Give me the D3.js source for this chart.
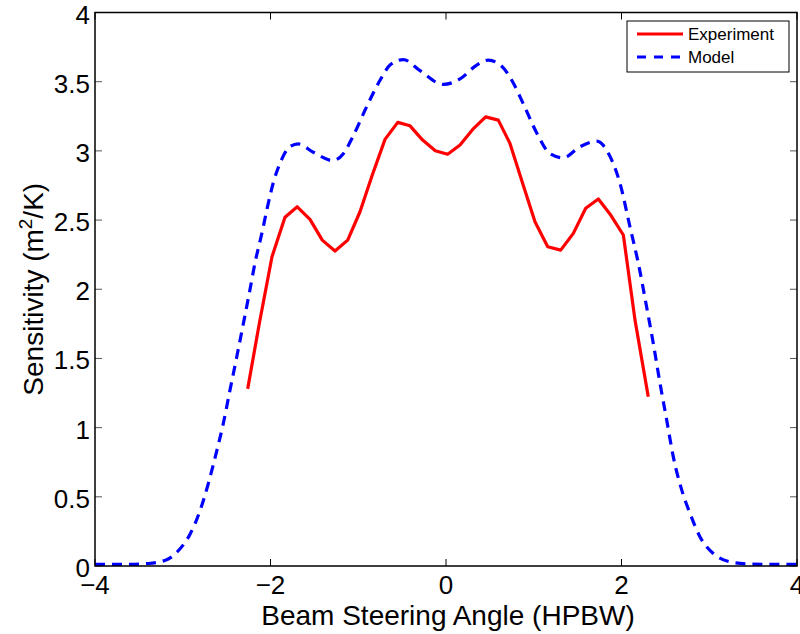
<!DOCTYPE html>
<html>
<head>
<meta charset="utf-8">
<script src="https://cdn.jsdelivr.net/npm/d3@7"></script>
<style>
  body { margin: 0; background: #fff; }
  text { font-family: "Liberation Sans", Arial, Helvetica, sans-serif; fill: #000; }
</style>
</head>
<body>
<div id="chart"></div>
<script>
const width = 800;
const height = 634;
const margin = { top: 12.5, right: 3, bottom: 68, left: 95 };

// measured experiment points (angle in HPBW, sensitivity in m^2/K)
const expX = [-2.26, -2.128, -1.983, -1.835, -1.695, -1.55, -1.41, -1.265, -1.12, -0.98, -0.84,
  -0.695, -0.55, -0.41, -0.266, -0.122, 0.019, 0.16, 0.304, 0.452, 0.596, 0.729, 0.874,
  1.014, 1.159, 1.307, 1.451, 1.592, 1.736, 1.877, 2.021, 2.154, 2.305];
const expY = [1.28, 1.75, 2.235, 2.52, 2.596, 2.505, 2.355, 2.276, 2.355, 2.56, 2.825,
  3.083, 3.206, 3.181, 3.078, 3.001, 2.975, 3.042, 3.155, 3.246, 3.222, 3.054, 2.765,
  2.488, 2.307, 2.283, 2.404, 2.585, 2.652, 2.536, 2.392, 1.777, 1.223];

// model curve
const modelX = [-4, -3.6, -3.393, -3.183, -3.051, -2.917, -2.803, -2.709, -2.621, -2.538, -2.462,
  -2.385, -2.31, -2.242, -2.177, -2.1, -2.043, -1.968, -1.892, -1.778, -1.683, -1.512,
  -1.291, -1.17, -1.056, -0.904, -0.752, -0.638, -0.487, -0.296, -0.031, 0.16, 0.35,
  0.482, 0.653, 0.767, 0.881, 1.034, 1.185, 1.337, 1.527, 1.717, 1.869, 1.983, 2.097,
  2.191, 2.287, 2.362, 2.439, 2.515, 2.59, 2.686, 2.781, 2.895, 3.046, 3.236, 3.464, 3.7, 4];
const modelY = [0.012, 0.012, 0.018, 0.045, 0.11, 0.23, 0.4, 0.595, 0.81, 1.03, 1.27,
  1.51, 1.75, 1.97, 2.19, 2.4, 2.57, 2.77, 2.91, 3.03, 3.05, 2.99,
  2.93, 2.98, 3.11, 3.32, 3.51, 3.62, 3.66, 3.58, 3.48, 3.52, 3.62,
  3.656, 3.6, 3.49, 3.34, 3.13, 2.98, 2.95, 3.03, 3.07, 2.96, 2.765, 2.45,
  2.19, 1.87, 1.61, 1.32, 1.055, 0.79, 0.55, 0.38, 0.21, 0.09, 0.03, 0.014, 0.012, 0.012];

const xTicks = [-4, -2, 0, 2, 4];
const yTicks = [0, 0.5, 1, 1.5, 2, 2.5, 3, 3.5, 4];
const seriesNames = ['Experiment', 'Model'];
const seriesColors = ['#ff0000', '#0000ff'];

const x = d3.scaleLinear().domain([-4, 4]).range([margin.left, width - margin.right]);
const y = d3.scaleLinear().domain([0, 4]).range([height - margin.bottom, margin.top]);

const svg = d3.select('#chart')
  .append('svg')
  .attr('width', width)
  .attr('height', height);

const fmt = d => String(d).replace('-', '\u2212');

// ticks, matlab style: inside, on all sides
const tickLen = 7;
const axes = svg.append('g').attr('class', 'axes');

axes.selectAll('.xtick-b').data(xTicks).enter().append('line')
  .attr('x1', d => x(d)).attr('x2', d => x(d))
  .attr('y1', y(0)).attr('y2', y(0) - tickLen)
  .attr('stroke', '#000').attr('stroke-width', 1);
axes.selectAll('.xtick-t').data(xTicks).enter().append('line')
  .attr('x1', d => x(d)).attr('x2', d => x(d))
  .attr('y1', y(4)).attr('y2', y(4) + tickLen)
  .attr('stroke', '#000').attr('stroke-width', 1);
axes.selectAll('.ytick-l').data(yTicks).enter().append('line')
  .attr('x1', x(-4)).attr('x2', x(-4) + tickLen)
  .attr('y1', d => y(d)).attr('y2', d => y(d))
  .attr('stroke', '#555').attr('stroke-width', 1);
axes.selectAll('.ytick-r').data(yTicks).enter().append('line')
  .attr('x1', x(4)).attr('x2', x(4) - tickLen)
  .attr('y1', d => y(d)).attr('y2', d => y(d))
  .attr('stroke', '#555').attr('stroke-width', 1);

axes.selectAll('.xlab').data(xTicks).enter().append('text')
  .attr('x', d => x(d))
  .attr('y', y(0) + 28)
  .attr('text-anchor', 'middle')
  .style('font-size', '26px')
  .text(fmt);

axes.selectAll('.ylab').data(yTicks).enter().append('text')
  .attr('x', x(-4) - 5)
  .attr('y', d => y(d) + 11)
  .attr('text-anchor', 'end')
  .style('font-size', '26px')
  .text(fmt);

// lines
const lineGen = d3.line()
  .x(d => x(d[0]))
  .y(d => y(d[1]));

const expPts = expX.map((v, i) => [v, expY[i]]);
const modelPts = modelX.map((v, i) => [v, modelY[i]]);

svg.append('path')
  .datum(modelPts)
  .attr('d', lineGen.curve(d3.curveMonotoneX))
  .attr('fill', 'none')
  .attr('stroke', seriesColors[1])
  .attr('stroke-width', 3.2)
  .attr('stroke-dasharray', '10,7');

svg.append('path')
  .datum(expPts)
  .attr('d', d3.line().x(d => x(d[0])).y(d => y(d[1]))(expPts))
  .attr('fill', 'none')
  .attr('stroke', seriesColors[0])
  .attr('stroke-width', 3.2)
  .attr('stroke-linejoin', 'round');

// frame
svg.append('rect')
  .attr('x', x(-4)).attr('y', y(4))
  .attr('width', x(4) - x(-4)).attr('height', y(0) - y(4))
  .attr('fill', 'none')
  .attr('stroke', '#000')
  .attr('stroke-width', 1.5);

// axis labels
svg.append('text')
  .attr('x', (x(-4) + x(4)) / 2 + 2)
  .attr('y', 625)
  .attr('text-anchor', 'middle')
  .style('font-size', '28px')
  .text('Beam Steering Angle (HPBW)');

const yl = svg.append('text')
  .attr('transform', `translate(43,${(y(0) + y(4)) / 2}) rotate(-90)`)
  .attr('text-anchor', 'middle')
  .style('font-size', '28px');
yl.append('tspan').text('Sensitivity (m');
yl.append('tspan').attr('dy', -11).style('font-size', '19px').text('2');
yl.append('tspan').attr('dy', 11).text('/K)');

// legend
const legend = svg.append('g').attr('transform', 'translate(627,21)');
legend.append('rect')
  .attr('width', 162).attr('height', 51)
  .attr('fill', '#fff').attr('stroke', '#000').attr('stroke-width', 1);
seriesNames.forEach((name, i) => {
  const ly = 13 + i * 23;
  legend.append('line')
    .attr('x1', 10).attr('x2', 56)
    .attr('y1', ly).attr('y2', ly)
    .attr('stroke', seriesColors[i])
    .attr('stroke-width', 3)
    .attr('stroke-dasharray', i === 1 ? '9,8' : null);
  legend.append('text')
    .attr('x', 61).attr('y', ly + 6)
    .style('font-size', '17px')
    .text(name);
});
</script>
</body>
</html>
